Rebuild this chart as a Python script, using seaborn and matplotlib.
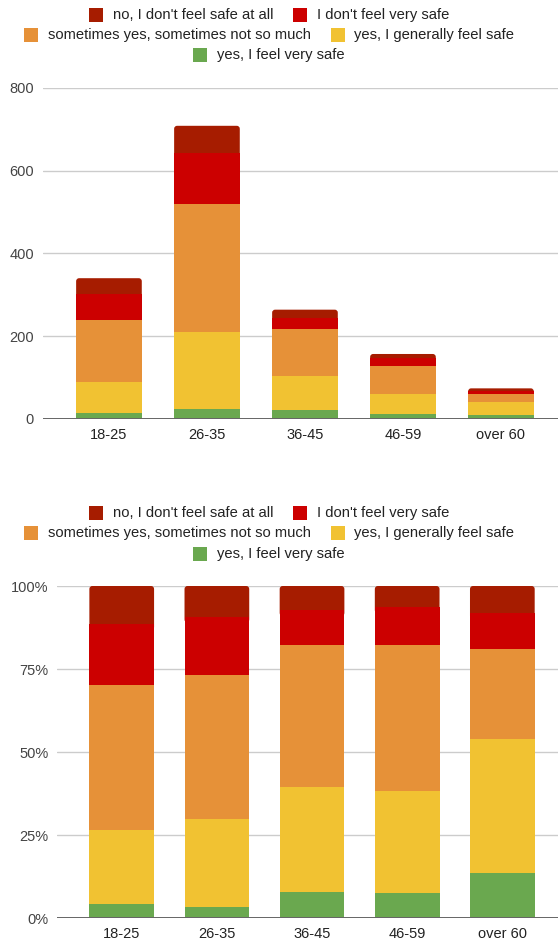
import matplotlib
matplotlib.use("Agg")
import numpy as np
import pandas as pd
import matplotlib.pyplot as plt
import seaborn as sns
from matplotlib.patches import Rectangle, FancyBboxPatch
from matplotlib.ticker import PercentFormatter

# Survey answers per age group (counts of respondents)
age_groups = ["18-25", "26-35", "36-45", "46-59", "over 60"]
answers = [
    "no, I don't feel safe at all",
    "I don't feel very safe",
    "sometimes yes, sometimes not so much",
    "yes, I generally feel safe",
    "yes, I feel very safe",
]
answer_colors = ["#a61c00", "#cc0000", "#e69138", "#f1c232", "#6aa84f"]

not_safe_at_all = [39, 65, 19, 10, 6]
not_very_safe = [62, 124, 28, 18, 8]
sometimes = [149, 308, 113, 69, 20]
generally_safe = [75, 186, 83, 48, 30]
very_safe = [15, 25, 21, 12, 10]

count_ticks = [0, 200, 400, 600, 800]
share_ticks = [0, 0.25, 0.5, 0.75, 1.0]

sns.set_theme(style="white")
plt.rcParams["font.family"] = ["Liberation Sans", "DejaVu Sans"]

W, H = 558, 943
fig = plt.figure(figsize=(W / 100, H / 100), dpi=100)

# stack order: bottom (very safe) to top (not safe at all)
counts = pd.DataFrame(
    {
        answers[4]: very_safe,
        answers[3]: generally_safe,
        answers[2]: sometimes,
        answers[1]: not_very_safe,
        answers[0]: not_safe_at_all,
    },
    index=age_groups,
)
shares = counts.div(counts.sum(axis=1), axis=0)
color_of = dict(zip(answers, answer_colors))


def px_axes(left, top, right, bottom):
    return fig.add_axes([left / W, 1 - bottom / H, (right - left) / W, (bottom - top) / H])


def round_tops(ax, patches, top_segment, radius_px=3):
    """Give the top segment of each stack rounded upper corners."""
    fig.canvas.draw()
    bbox = ax.get_window_extent()
    x0, x1 = ax.get_xlim()
    y0, y1 = ax.get_ylim()
    xu = (x1 - x0) / bbox.width
    yu = (y1 - y0) / bbox.height
    for p, seg in zip(patches, top_segment):
        total = p.get_height()
        start = max(total - seg - 2 * radius_px * yu, 0)
        fb = FancyBboxPatch((p.get_x(), start), p.get_width(), total - start,
                            boxstyle=f"round,pad=0,rounding_size={radius_px * xu}",
                            mutation_aspect=yu / xu, facecolor=p.get_facecolor(),
                            edgecolor="none", linewidth=0, zorder=1.5)
        p.remove()
        ax.add_patch(fb)


def stacked_bars(ax, table, width):
    cum = table.cumsum(axis=1)
    first = None
    for col in reversed(list(table.columns)):
        before = len(ax.patches)
        sns.barplot(x=list(table.index), y=cum[col].values, color=color_of[col],
                    saturation=1, width=width, linewidth=0, ax=ax, zorder=2)
        if first is None:
            first = list(ax.patches[before:])
    return first


def style_axes(ax, ticks, ylim, xlim):
    ax.set_ylim(*ylim)
    ax.set_xlim(*xlim)
    ax.set_yticks(ticks)
    ax.set_axisbelow(True)
    ax.grid(axis="y", color="#cccccc", linewidth=1.0)
    ax.grid(axis="x", visible=False)
    for s in ax.spines.values():
        s.set_visible(False)
    ax.axhline(0, color="#666666", linewidth=1.4, zorder=3)
    ax.tick_params(axis="y", length=0, pad=6.5, labelsize=10.5, labelcolor="#444444")
    ax.tick_params(axis="x", length=0, pad=6.5, labelsize=10.5, labelcolor="#222222")
    ax.set_xlabel("")
    ax.set_ylabel("")


def draw_legend(row_ys, center_x=269):
    rows = [[0, 1], [2, 3], [4]]
    renderer = fig.canvas.get_renderer()
    sq, gap_txt, gap_item = 14, 10, 20
    for row, y in zip(rows, row_ys):
        texts = []
        widths = []
        for i in row:
            t = fig.text(0, 0, answers[i], fontsize=10.6, color="#222222",
                         va="center", ha="left")
            bb = t.get_window_extent(renderer=renderer)
            texts.append(t)
            widths.append(bb.width)
        total = sum(sq + gap_txt + w for w in widths) + gap_item * (len(row) - 1)
        x = center_x - total / 2
        for i, t, w in zip(row, texts, widths):
            fig.patches.append(Rectangle((x / W, 1 - (y + sq / 2) / H), sq / W, sq / H,
                                         transform=fig.transFigure, figure=fig,
                                         facecolor=answer_colors[i], edgecolor="none"))
            t.set_position(((x + sq + gap_txt) / W, 1 - y / H))
            x += sq + gap_txt + w + gap_item


top_col = answers[0]

# absolute counts
ax1 = px_axes(43, 87.7, 558, 419)
tops1 = stacked_bars(ax1, counts, 0.67)
style_axes(ax1, count_ticks, (0, 800), (-0.673, 4.582))
round_tops(ax1, tops1, counts[top_col].values)

# percentage shares
ax2 = px_axes(57.3, 586, 558, 918.3)
tops2 = stacked_bars(ax2, shares, 0.68)
style_axes(ax2, share_ticks, (0, 1), (-0.677, 4.585))
ax2.yaxis.set_major_formatter(PercentFormatter(1.0, decimals=0))
round_tops(ax2, tops2, shares[top_col].values)

fig.canvas.draw()
draw_legend([15, 35, 55])
draw_legend([513, 533, 554])

fig.savefig("out.png", dpi=100, facecolor="white")
